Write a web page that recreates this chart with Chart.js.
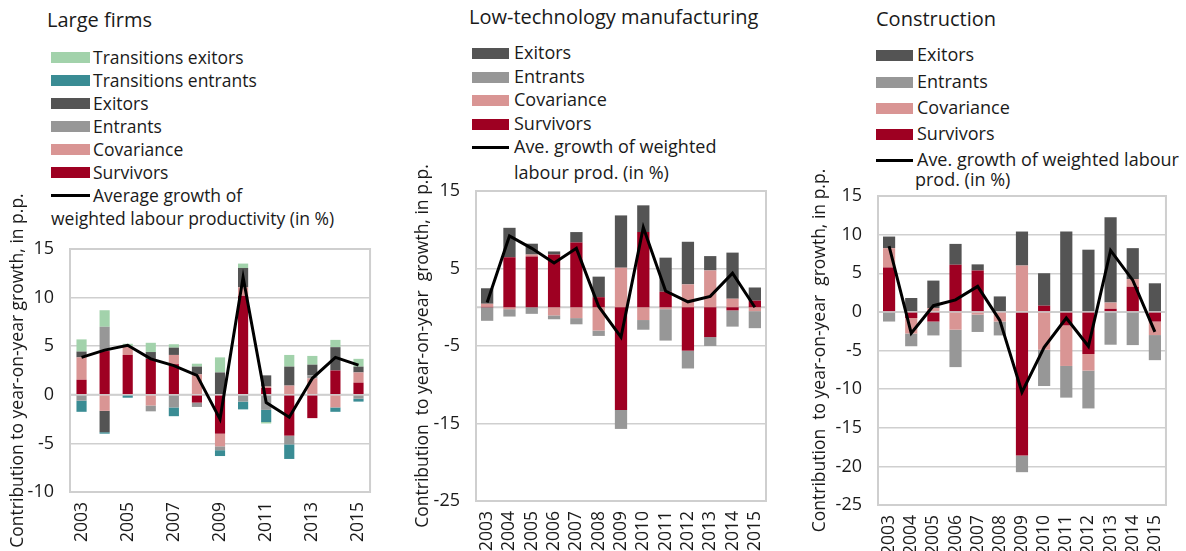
<!DOCTYPE html>
<html>
<head>
<meta charset="utf-8">
<script src="https://cdn.jsdelivr.net/npm/chart.js@4.4.1/dist/chart.umd.min.js"></script>
<style>
  body { margin: 0; width: 1186px; height: 551px; background: #fff; position: relative; overflow: hidden;
         font-family: "Open Sans", sans-serif; color: #1a1a1a; }
  .txt { position: absolute; white-space: nowrap; }
  .sw { position: absolute; }
  canvas { position: absolute; }
</style>
</head>
<body>
<script>
const years = ['2003', '2004', '2005', '2006', '2007', '2008', '2009', '2010', '2011', '2012', '2013', '2014', '2015'];

// Large firms
const largeSurvivors     = [1.55, 4.5, 4.1, 3.7, 3.15, -0.8, -4.0, 10.2, 0.7, -4.2, -2.4, 2.5, 1.25];
const largeCovariance    = [2.3, -1.65, 0.9, -1.1, 0.95, 2.1, -1.3, 0.85, 0.15, 0.95, 1.7, -1.3, 1.05];
const largeEntrants      = [-0.6, 2.5, 0, -0.6, -1.3, -0.45, -0.4, -0.7, -1.55, -0.9, 0.3, 0, -0.4];
const largeExitors       = [0.6, -2.2, 0, 0.7, 0.75, 0.8, 2.3, 2.0, 1.15, 1.95, 1.1, 2.4, 0.6];
const largeTransEntrants = [-1.15, -0.15, -0.3, 0, -0.9, 0, -0.6, -0.8, -1.25, -1.5, 0, -0.45, -0.3];
const largeTransExitors  = [1.25, 1.7, 0.25, 0.95, 0.35, 0.3, 1.55, 0.45, -0.15, 1.2, 0.9, 0.75, 0.8];
const largeGrowth        = [3.85, 4.6, 5.1, 3.7, 3.0, 2.0, -2.5, 12.1, -0.8, -2.3, 1.7, 3.85, 3.05];

// Low-technology manufacturing
const lowSurvivors  = [0.05, 6.45, 6.55, 6.8, 8.35, 1.3, -13.25, 9.7, 2.0, -5.6, -3.85, -0.4, 0.85];
const lowCovariance = [0.4, -0.25, 0.25, -1.05, -1.4, -3.0, 5.1, -1.65, -0.25, 2.95, 4.75, 1.1, -0.5];
const lowEntrants   = [-1.75, -0.95, -0.85, -0.5, -0.8, -0.7, -2.45, -1.25, -4.05, -2.3, -1.15, -2.1, -2.2];
const lowExitors    = [2.0, 3.8, 1.4, 0.4, 1.35, 2.65, 6.75, 3.45, 4.4, 5.5, 1.85, 5.95, 1.7];
const lowGrowth     = [0.6, 9.2, 7.6, 5.7, 7.6, 0.1, -3.85, 10.3, 2.1, 0.7, 1.4, 4.4, 0.0];

// Construction
const consSurvivors  = [5.75, -0.8, -1.25, 6.1, 5.35, 0, -18.6, 0.8, -1.75, -5.45, 0.4, 3.25, -1.25];
const consCovariance = [2.5, -2.0, 0.5, -2.3, -0.35, -1.25, 6.0, -4.9, -5.25, -2.15, 0.8, 1.0, -1.75];
const consEntrants   = [-1.25, -1.65, -1.8, -4.85, -2.25, -1.8, -2.15, -4.7, -4.1, -4.9, -4.25, -4.3, -3.25];
const consExitors    = [1.5, 1.8, 3.55, 2.7, 0.8, 2.0, 4.4, 4.2, 10.4, 8.05, 11.05, 4.0, 3.7];
const consGrowth     = [8.5, -2.75, 0.8, 1.55, 3.3, -1.1, -10.4, -4.6, -0.8, -4.45, 7.95, 4.1, -2.6];

const RED = '#9e0022', PINK = '#d99594', GRAY = '#979797', DARK = '#545454', TEAL = '#3a8c94', GREEN = '#a2d2ab';
const GRID = '#cfcfcf';

Chart.defaults.font.family = '"Open Sans", sans-serif';
Chart.defaults.font.size = 17;
Chart.defaults.color = '#1a1a1a';

// plot frame plus the zero line, under the bars
const framePlugin = {
  id: 'frame',
  beforeDatasetsDraw(chart) {
    const { ctx, chartArea: a } = chart;
    const y0 = chart.scales.y.getPixelForValue(0);
    ctx.save();
    ctx.strokeStyle = GRID;
    ctx.lineWidth = 2;
    ctx.strokeRect(a.left, a.top, a.right - a.left, a.bottom - a.top);
    ctx.beginPath();
    ctx.moveTo(a.left, y0);
    ctx.lineTo(a.right, y0);
    ctx.stroke();
    ctx.restore();
  }
};

function addText(text, x, cy, size) {
  const d = document.createElement('div');
  d.className = 'txt';
  d.textContent = text;
  d.style.left = x + 'px';
  d.style.top = (cy - size * 0.7) + 'px';
  d.style.fontSize = size + 'px';
  d.style.lineHeight = (size * 1.4) + 'px';
  document.body.appendChild(d);
}

function addSwatch(x, cy, w, h, color) {
  const d = document.createElement('div');
  d.className = 'sw';
  d.style.left = x + 'px';
  d.style.top = (cy - h / 2) + 'px';
  d.style.width = w + 'px';
  d.style.height = h + 'px';
  d.style.background = color;
  document.body.appendChild(d);
}

function legend(p) {
  addText(p.title, p.titleX, p.titleY, 20);
  p.items.forEach((it, i) => {
    const cy = p.rows[i];
    if (it.line) addSwatch(p.swX, cy, p.swW, 3, '#000');
    else addSwatch(p.swX, cy, p.swW, 11, it.color);
    addText(it.label, p.textX, cy, p.size);
  });
  addText(p.wrapText, p.wrapX, p.wrapY, p.size);
}

function panel(p) {
  const c = document.createElement('canvas');
  c.width = p.w; c.height = p.h;
  c.style.left = p.x + 'px'; c.style.top = p.y + 'px';
  document.body.appendChild(c);

  const datasets = p.bars.map(b => ({
    type: 'bar', label: b.label, data: b.data, backgroundColor: b.color,
    stack: 'parts', barPercentage: p.barPct, categoryPercentage: 1
  }));
  datasets.push({
    type: 'line', label: 'growth', data: p.growth, stack: 'line', order: -1,
    borderColor: '#000', borderWidth: 3, pointRadius: 0, tension: 0, fill: false
  });

  new Chart(c, {
    data: { labels: years, datasets },
    options: {
      responsive: false,
      animation: false,
      layout: { padding: { top: p.padTop, right: p.padRight, left: 0, bottom: 0 } },
      plugins: { legend: { display: false }, tooltip: { enabled: false } },
      scales: {
        x: {
          stacked: true,
          grid: { display: false, drawTicks: false },
          border: { display: false },
          ticks: {
            autoSkip: false, minRotation: 90, maxRotation: 90, padding: 10,
            font: { size: 17.5 },
            callback(v, i) { return (p.everyOther && i % 2) ? '' : this.getLabelForValue(v); }
          },
          afterFit(s) { s.height = p.axisH; }
        },
        y: {
          stacked: true,
          min: p.min, max: p.max,
          grid: { color: GRID, lineWidth: 1.5, drawTicks: false },
          border: { display: false },
          ticks: { stepSize: p.step, padding: 16, font: { size: 18 } },
          title: { display: true, text: p.yTitle, font: { size: 17.5 }, padding: { top: p.titlePad, bottom: 0 } },
          afterFit(s) { s.width = p.axisW; }
        }
      }
    },
    plugins: [framePlugin]
  });
}

// Large firms
legend({
  title: 'Large firms', titleX: 47, titleY: 20, swX: 51, swW: 39, textX: 93, size: 17.5,
  rows: [57, 80, 103, 126, 149, 172, 195],
  items: [
    { label: 'Transitions exitors', color: GREEN },
    { label: 'Transitions entrants', color: TEAL },
    { label: 'Exitors', color: DARK },
    { label: 'Entrants', color: GRAY },
    { label: 'Covariance', color: PINK },
    { label: 'Survivors', color: RED },
    { label: 'Average growth of', line: true }
  ],
  wrapText: 'weighted labour productivity  (in %)', wrapX: 51, wrapY: 218
});
panel({
  x: 0, y: 180, w: 390, h: 371, padTop: 69, padRight: 13, axisW: 70, axisH: 59, titlePad: 7.5,
  min: -10, max: 15, step: 5, barPct: 0.44, everyOther: true,
  yTitle: 'Contribution to year-on-year growth, in p.p.',
  bars: [
    { label: 'Survivors', data: largeSurvivors, color: RED },
    { label: 'Covariance', data: largeCovariance, color: PINK },
    { label: 'Entrants', data: largeEntrants, color: GRAY },
    { label: 'Exitors', data: largeExitors, color: DARK },
    { label: 'Transitions entrants', data: largeTransEntrants, color: TEAL },
    { label: 'Transitions exitors', data: largeTransExitors, color: GREEN }
  ],
  growth: largeGrowth
});

// Low-technology manufacturing
legend({
  title: 'Low-technology manufacturing', titleX: 469, titleY: 17, swX: 472, swW: 37, textX: 514, size: 18,
  rows: [53, 77, 100, 124, 147],
  items: [
    { label: 'Exitors', color: DARK },
    { label: 'Entrants', color: GRAY },
    { label: 'Covariance', color: PINK },
    { label: 'Survivors', color: RED },
    { label: 'Ave. growth of weighted', line: true }
  ],
  wrapText: 'labour  prod. (in %)', wrapX: 514, wrapY: 173
});
panel({
  x: 390, y: 140, w: 396, h: 411, padTop: 51, padRight: 4, axisW: 86, axisH: 50, titlePad: 22.5,
  min: -25, max: 15, step: 10, barPct: 0.55, everyOther: false,
  yTitle: 'Contribution  to year-on-year  growth, in p.p.',
  bars: [
    { label: 'Survivors', data: lowSurvivors, color: RED },
    { label: 'Covariance', data: lowCovariance, color: PINK },
    { label: 'Entrants', data: lowEntrants, color: GRAY },
    { label: 'Exitors', data: lowExitors, color: DARK }
  ],
  growth: lowGrowth
});

// Construction
legend({
  title: 'Construction', titleX: 876, titleY: 19, swX: 876, swW: 37, textX: 917, size: 18,
  rows: [55, 82, 108, 134, 160],
  items: [
    { label: 'Exitors', color: DARK },
    { label: 'Entrants', color: GRAY },
    { label: 'Covariance', color: PINK },
    { label: 'Survivors', color: RED },
    { label: 'Ave. growth of weighted labour', line: true }
  ],
  wrapText: 'prod.  (in %)', wrapX: 915, wrapY: 180
});
panel({
  x: 786, y: 150, w: 400, h: 401, padTop: 46, padRight: 3, axisW: 92, axisH: 46, titlePad: 23.5,
  min: -25, max: 15, step: 5, barPct: 0.55, everyOther: false,
  yTitle: 'Contribution  to year-on-year  growth, in p.p.',
  bars: [
    { label: 'Survivors', data: consSurvivors, color: RED },
    { label: 'Covariance', data: consCovariance, color: PINK },
    { label: 'Entrants', data: consEntrants, color: GRAY },
    { label: 'Exitors', data: consExitors, color: DARK }
  ],
  growth: consGrowth
});
</script>
</body>
</html>
